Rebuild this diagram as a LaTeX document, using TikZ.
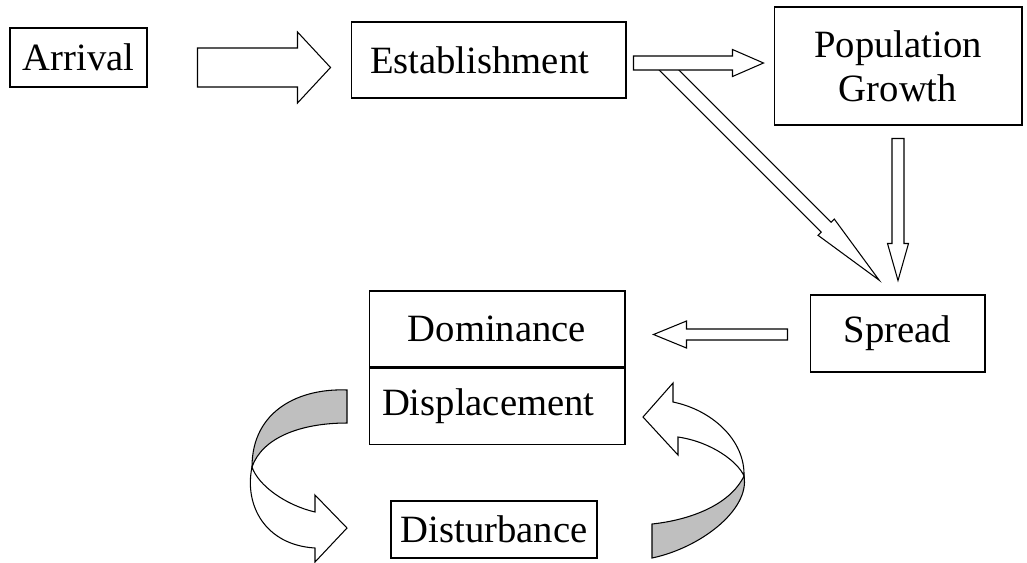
\documentclass[tikz,border=0pt]{standalone}
\usepackage{fontspec}
\setmainfont{Liberation Serif}
\usetikzlibrary{positioning, calc}

% hollow block arrow: start, angle, length, shaft half width, head half width, head length
\newcommand{\blockarrow}[6]{%
  \draw[barrow, shift={#1}, rotate=#2]
    (0,-#4) -- ({#3-#6},-#4) -- ({#3-#6},-#5) -- (#3,0)
    -- ({#3-#6},#5) -- ({#3-#6},#4) -- (0,#4) -- cycle;}

\begin{document}
\begin{tikzpicture}[
  x=0.02cm, y=-0.02cm,
  box/.style={draw, line width=0.6pt, inner sep=0pt, align=center, font=\fontsize{22}{25}\selectfont},
  barrow/.style={draw, fill=white, line width=0.6pt},
  backface/.style={draw, fill=black!25, line width=0.6pt}
]
  \useasboundingbox (0,0) rectangle (1027,562);

  % stages
  \node[box, minimum width=2.74cm, minimum height=1.18cm] (arrival) at (78.5,57.5) {Arrival};
  \node[box, minimum width=5.5cm, minimum height=1.52cm, text width=4.74cm, inner xsep=0.38cm, align=left] (establish) at (488.5,60) {Establishment};
  \node[box, minimum width=4.96cm, minimum height=2.36cm] (growth) at (898,66) {Population\\Growth};
  \node[box, minimum width=3.5cm, minimum height=1.54cm] (spread) at (897.5,333.5) {Spread};
  \node[box, minimum width=5.12cm, minimum height=1.52cm] (dom) at (497,329) {Dominance};
  \node[box, minimum width=5.12cm, minimum height=1.52cm, text width=4.6cm, inner xsep=0.26cm, align=left, below=0pt of dom] (disp) {Displacement};
  \node[box, minimum width=4.12cm, minimum height=1.14cm] (disturb) at (494,529.5) {Disturbance};

  % block arrows
  \blockarrow{($(arrival.east)+(50,10)$)}{0}{133}{19.5}{35.5}{33}
  \blockarrow{($(establish.south east)+(37,-34)$)}{-45}{305}{7}{11.5}{75}
  \blockarrow{($(establish.east)+(7,3)$)}{0}{130}{7}{13.5}{31}
  \blockarrow{($(growth.south)+(0,13)$)}{-90}{142}{6}{10.5}{37}
  \blockarrow{($(spread.west)+(-22,1)$)}{180}{134}{5.5}{13.5}{33}

  % curved arrow to disturbance
  \draw[backface] (347,390) .. controls (300,388) and (252,410) .. (252,467)
    .. controls (262,438) and (300,423) .. (347,423) -- cycle;
  \draw[barrow] (252,467) .. controls (244,505) and (265,545) .. (315,548)
    -- (315,562) -- (347,528) -- (315,495) -- (315,512)
    .. controls (285,505) and (258,485) .. (252,467) -- cycle;

  % curved arrow back to displacement
  \draw[backface] (744,476) .. controls (750,510) and (700,548) .. (652,558)
    -- (652,524) .. controls (690,520) and (730,505) .. (744,476) -- cycle;
  \draw[barrow] (673,402) .. controls (712,410) and (745,440) .. (744,476)
    .. controls (738,462) and (712,442) .. (678,437)
    -- (678,455) -- (643,417) -- (673,383) -- cycle;
\end{tikzpicture}
\end{document}
